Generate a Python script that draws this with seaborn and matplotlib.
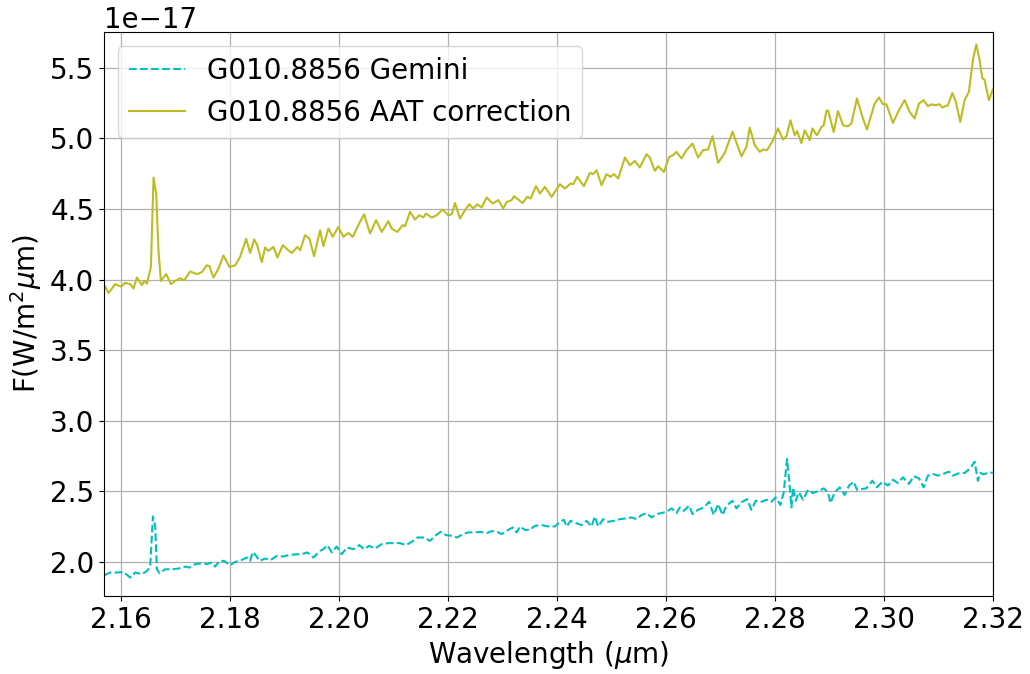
import numpy as np
import pandas as pd
import matplotlib
matplotlib.use("Agg")
import matplotlib.pyplot as plt
import seaborn as sns

# Flux values are given in units of 1e-17 W/m^2/um
FLUX_UNIT = 1e-17

gemini_wavelength = [
    2.15694, 2.15804, 2.15927, 2.16048, 2.16171, 2.16262, 2.16385, 2.16477, 2.16537, 2.16587,
    2.16629, 2.16660, 2.16708, 2.16812, 2.16935, 2.17056, 2.17179, 2.17258, 2.17362, 2.17485,
    2.17577, 2.17668, 2.17729, 2.17808, 2.17894, 2.18004, 2.18096, 2.18219, 2.18310, 2.18371,
    2.18420, 2.18481, 2.18541, 2.18646, 2.18750, 2.18860, 2.18970, 2.19073, 2.19196, 2.19319,
    2.19421, 2.19531,
    2.19654, 2.19715, 2.19788, 2.19869, 2.19960, 2.20052, 2.20144, 2.20265, 2.20375, 2.20461,
    2.20558, 2.20663, 2.20785, 2.20906, 2.21029, 2.21121, 2.21231, 2.21336, 2.21438, 2.21561,
    2.21671, 2.21763, 2.21867, 2.21964, 2.22069, 2.22172, 2.22271, 2.22373, 2.22496, 2.22601,
    2.22711, 2.22802, 2.22905, 2.22986, 2.23077, 2.23187, 2.23261, 2.23321, 2.23413, 2.23505,
    2.23596,
    2.23719, 2.23840, 2.23963, 2.24055, 2.24128, 2.24178, 2.24251, 2.24348, 2.24452, 2.24544,
    2.24636, 2.24696, 2.24757, 2.24849, 2.24940, 2.25045, 2.25155, 2.25265, 2.25369, 2.25461,
    2.25553, 2.25644, 2.25736, 2.25828, 2.25919, 2.26011, 2.26103, 2.26194, 2.26255, 2.26328,
    2.26425, 2.26488, 2.26590, 2.26695, 2.26792, 2.26878, 2.26957, 2.27038, 2.27111, 2.27221,
    2.27294, 2.27386, 2.27489, 2.27569, 2.27648,
    2.27753, 2.27845, 2.27936, 2.28015, 2.28101, 2.28162, 2.28222, 2.28259, 2.28303, 2.28332,
    2.28382, 2.28442, 2.28516, 2.28607, 2.28699, 2.28809, 2.28895, 2.28974, 2.29018, 2.29097,
    2.29188, 2.29280, 2.29359, 2.29445, 2.29506, 2.29587, 2.29678, 2.29788, 2.29872, 2.29971,
    2.30074, 2.30166, 2.30257, 2.30349, 2.30459, 2.30545, 2.30643, 2.30729, 2.30807, 2.30899,
    2.30991, 2.31082, 2.31192, 2.31266, 2.31389, 2.31480, 2.31585, 2.31664, 2.31724, 2.31768,
    2.31829, 2.31926, 2.31999,
]
gemini_flux = [
    1.906, 1.925, 1.925, 1.929, 1.889, 1.925, 1.913, 1.936, 1.967, 2.322,
    2.256, 1.948, 1.920, 1.948, 1.948, 1.953, 1.967, 1.960, 1.984, 1.991,
    1.984, 1.996, 1.967, 2.007, 2.007, 1.977, 2.000, 2.014, 2.031, 2.007,
    2.071, 2.043, 2.007, 2.024, 2.014, 2.043, 2.038, 2.048, 2.053, 2.055,
    2.067, 2.031,
    2.078, 2.090, 2.119, 2.067, 2.109, 2.055, 2.102, 2.090, 2.119, 2.090,
    2.114, 2.095, 2.126, 2.133, 2.133, 2.133, 2.119, 2.142, 2.173, 2.173,
    2.149, 2.185, 2.213, 2.190, 2.185, 2.173, 2.197, 2.209, 2.209, 2.213,
    2.204, 2.218, 2.213, 2.197, 2.220, 2.244, 2.209, 2.251, 2.227, 2.227,
    2.256,
    2.261, 2.251, 2.251, 2.284, 2.298, 2.251, 2.291, 2.275, 2.261, 2.291,
    2.251, 2.322, 2.251, 2.303, 2.284, 2.291, 2.303, 2.308, 2.315, 2.303,
    2.332, 2.346, 2.315, 2.339, 2.346, 2.355, 2.379, 2.346, 2.386, 2.362,
    2.398, 2.339, 2.369, 2.386, 2.426, 2.332, 2.410, 2.332, 2.398, 2.433,
    2.379, 2.422, 2.445, 2.369, 2.433,
    2.426, 2.440, 2.426, 2.457, 2.403, 2.493, 2.729, 2.587, 2.386, 2.528,
    2.433, 2.493, 2.440, 2.511, 2.488, 2.504, 2.521, 2.493, 2.417, 2.493,
    2.528, 2.474, 2.540, 2.568, 2.511, 2.516, 2.521, 2.575, 2.528, 2.568,
    2.540, 2.582, 2.559, 2.599, 2.552, 2.607, 2.592, 2.528, 2.611, 2.623,
    2.611, 2.623, 2.639, 2.611, 2.630, 2.630, 2.663, 2.710, 2.575, 2.630,
    2.621, 2.632, 2.632,
]

aat_wavelength = [
    2.15694, 2.15773, 2.15895, 2.16000, 2.16079, 2.16171, 2.16231, 2.16293, 2.16385, 2.16427,
    2.16477, 2.16550, 2.16598, 2.16647, 2.16689, 2.16733, 2.16831, 2.16917, 2.16996, 2.17087,
    2.17161, 2.17271, 2.17393, 2.17485, 2.17577, 2.17624, 2.17698, 2.17790, 2.17881, 2.17991,
    2.18096, 2.18187, 2.18297, 2.18371, 2.18444, 2.18494, 2.18585, 2.18646, 2.18706, 2.18798,
    2.18871, 2.18970, 2.19055, 2.19135, 2.19238, 2.19288, 2.19379, 2.19458, 2.19544,
    2.19654, 2.19715, 2.19806, 2.19887, 2.19990, 2.20081, 2.20173, 2.20254, 2.20356, 2.20461,
    2.20571, 2.20681, 2.20785, 2.20906, 2.20969, 2.21072, 2.21170, 2.21213, 2.21304, 2.21396,
    2.21475, 2.21548, 2.21598, 2.21702, 2.21794, 2.21904, 2.22007, 2.22069, 2.22130, 2.22221,
    2.22313, 2.22392, 2.22465, 2.22538, 2.22619, 2.22711, 2.22821, 2.22923, 2.23015, 2.23077,
    2.23169, 2.23211, 2.23321, 2.23371, 2.23455, 2.23517, 2.23615,
    2.23688, 2.23780, 2.23902, 2.24055, 2.24146, 2.24251, 2.24299, 2.24372, 2.24495, 2.24605,
    2.24665, 2.24728, 2.24819, 2.24911, 2.24984, 2.25045, 2.25124, 2.25247, 2.25338, 2.25430,
    2.25521, 2.25644, 2.25705, 2.25797, 2.25857, 2.25962, 2.26059, 2.26132, 2.26194, 2.26286,
    2.26378, 2.26488, 2.26590, 2.26682, 2.26774, 2.26854, 2.26957, 2.27080, 2.27221, 2.27386,
    2.27478, 2.27538, 2.27630,
    2.27722, 2.27782, 2.27856, 2.27966, 2.28057, 2.28149, 2.28211, 2.28285, 2.28363, 2.28406,
    2.28486, 2.28547, 2.28638, 2.28688, 2.28772, 2.28853, 2.28895, 2.28944, 2.28974, 2.29078,
    2.29157, 2.29249, 2.29341, 2.29403, 2.29506, 2.29605, 2.29689, 2.29830, 2.29909, 2.29982,
    2.30045, 2.30166, 2.30276, 2.30380, 2.30472, 2.30564, 2.30643, 2.30729, 2.30807, 2.30870,
    2.30930, 2.31022, 2.31071, 2.31174, 2.31255, 2.31315, 2.31401, 2.31480, 2.31559, 2.31633,
    2.31695, 2.31755, 2.31805, 2.31847, 2.31926, 2.31999,
]
aat_flux = [
    3.960, 3.905, 3.967, 3.950, 3.976, 3.967, 3.936, 4.014, 3.960, 3.990,
    3.970, 4.089, 4.722, 4.609, 4.207, 3.990, 4.038, 3.967, 3.990, 4.009,
    3.995, 4.057, 4.038, 4.052, 4.101, 4.094, 4.014, 4.078, 4.170, 4.089,
    4.100, 4.160, 4.288, 4.188, 4.283, 4.250, 4.123, 4.227, 4.203, 4.231,
    4.156, 4.243, 4.212, 4.188, 4.231, 4.207, 4.314, 4.290, 4.165,
    4.349, 4.236, 4.361, 4.302, 4.373, 4.302, 4.330, 4.302, 4.385, 4.462,
    4.326, 4.420, 4.337, 4.413, 4.361, 4.337, 4.385, 4.377, 4.479, 4.425,
    4.455, 4.439, 4.467, 4.439, 4.455, 4.496, 4.455, 4.462, 4.542, 4.432,
    4.491, 4.533, 4.503, 4.533, 4.510, 4.581, 4.538, 4.562, 4.503, 4.549,
    4.562, 4.590, 4.557, 4.542, 4.585, 4.574, 4.661,
    4.609, 4.656, 4.585, 4.675, 4.644, 4.680, 4.675, 4.727, 4.661, 4.755,
    4.746, 4.774, 4.668, 4.746, 4.727, 4.746, 4.715, 4.864, 4.810, 4.840,
    4.793, 4.887, 4.864, 4.769, 4.802, 4.762, 4.868, 4.880, 4.904, 4.857,
    4.916, 4.963, 4.864, 4.916, 4.921, 5.015, 4.826, 4.897, 5.046, 4.873,
    4.939, 5.076, 4.951,
    4.904, 4.921, 4.916, 4.987, 5.070, 4.991, 5.015, 5.128, 5.021, 5.051,
    4.966, 5.057, 4.987, 5.070, 5.021, 5.080, 5.092, 5.193, 5.198, 5.045,
    5.193, 5.092, 5.085, 5.105, 5.282, 5.152, 5.062, 5.246, 5.289, 5.241,
    5.241, 5.109, 5.199, 5.270, 5.187, 5.140, 5.246, 5.270, 5.227, 5.241,
    5.234, 5.241, 5.218, 5.234, 5.321, 5.265, 5.116, 5.270, 5.329, 5.556,
    5.665, 5.556, 5.426, 5.414, 5.270, 5.346,
]

gemini = pd.DataFrame({"wavelength": gemini_wavelength,
                       "flux": np.array(gemini_flux) * FLUX_UNIT})
aat = pd.DataFrame({"wavelength": aat_wavelength,
                    "flux": np.array(aat_flux) * FLUX_UNIT})

plt.rcParams["font.family"] = ["DejaVu Sans"]
plt.rcParams["font.size"] = 20

fig, ax = plt.subplots(figsize=(10.30, 6.74), dpi=100)
fig.subplots_adjust(left=0.101, right=0.964, top=0.953, bottom=0.116)

sns.lineplot(data=gemini, x="wavelength", y="flux", ax=ax, sort=False,
             color="#00bfbf", linestyle="--", linewidth=1.5,
             label="G010.8856 Gemini")
sns.lineplot(data=aat, x="wavelength", y="flux", ax=ax, sort=False,
             color="#bcbd22", linewidth=1.5,
             label="G010.8856 AAT correction")

ax.set_xlim(2.1569, 2.3200)
ax.set_ylim(1.76e-17, 5.755e-17)
ax.set_xticks(np.arange(2.16, 2.3201, 0.02))
ax.grid(True, color="#b0b0b0", linewidth=0.9)
ax.set_axisbelow(True)

ax.set_xlabel(r"Wavelength ($\mu$m)", fontsize=20)
ax.set_ylabel(r"F(W/m$^2$$\mu$m)", fontsize=20)
ax.tick_params(labelsize=20)
ax.yaxis.get_offset_text().set_fontsize(20)

ax.legend(loc="upper left", fontsize=20)

fig.savefig("out.png", dpi=100)
